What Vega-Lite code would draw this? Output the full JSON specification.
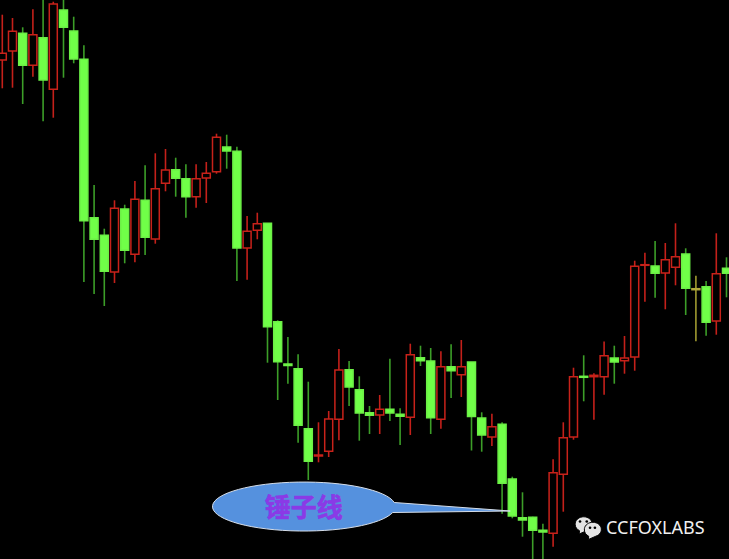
{"$schema":"https://vega.github.io/schema/vega-lite/v6.json","width":729,"height":559,"padding":0,"autosize":{"type":"none"},"background":"#000000","config":{"view":{"stroke":null}},
"datasets":{"candles":[
{"i":0,"open":499,"high":544.3,"low":470.7,"close":505.7,"kind":"up"},
{"i":1,"open":508,"high":541,"low":471.3,"close":527.7,"kind":"up"},
{"i":2,"open":525.7,"high":531.7,"low":455,"close":493.7,"kind":"down"},
{"i":3,"open":493.7,"high":549.7,"low":482.3,"close":524.3,"kind":"up"},
{"i":4,"open":521.3,"high":559,"low":437.7,"close":479,"kind":"down"},
{"i":5,"open":469.7,"high":557.3,"low":441.3,"close":555,"kind":"up"},
{"i":6,"open":549,"high":559,"low":481.3,"close":531.7,"kind":"down"},
{"i":7,"open":528,"high":542.3,"low":495.7,"close":500,"kind":"down"},
{"i":8,"open":499.7,"high":513.7,"low":277,"close":338.3,"kind":"down"},
{"i":9,"open":341.3,"high":374,"low":265,"close":319.7,"kind":"down"},
{"i":10,"open":323.7,"high":330.3,"low":253,"close":287.7,"kind":"down"},
{"i":11,"open":287,"high":358.7,"low":276,"close":350.7,"kind":"up"},
{"i":12,"open":350,"high":354.3,"low":295.7,"close":308.7,"kind":"down"},
{"i":13,"open":304.7,"high":378,"low":296.7,"close":359.7,"kind":"up"},
{"i":14,"open":358.7,"high":393.7,"low":304,"close":321.7,"kind":"down"},
{"i":15,"open":320,"high":405.7,"low":315.3,"close":370.3,"kind":"up"},
{"i":16,"open":375.7,"high":410,"low":367.7,"close":389,"kind":"up"},
{"i":17,"open":389.3,"high":401.3,"low":362.3,"close":380.7,"kind":"down"},
{"i":18,"open":380.3,"high":394.7,"low":341.3,"close":362.3,"kind":"down"},
{"i":19,"open":362.3,"high":394.7,"low":351.3,"close":380.3,"kind":"up"},
{"i":20,"open":381,"high":397,"low":356,"close":385.7,"kind":"up"},
{"i":21,"open":387.3,"high":425.3,"low":385.3,"close":421.7,"kind":"up"},
{"i":22,"open":412,"high":424.3,"low":390.3,"close":408,"kind":"down"},
{"i":23,"open":407.7,"high":412.3,"low":278,"close":311,"kind":"down"},
{"i":24,"open":311,"high":343,"low":279.3,"close":327.7,"kind":"up"},
{"i":25,"open":328.7,"high":346.3,"low":319.7,"close":335.3,"kind":"up"},
{"i":26,"open":335.7,"high":335.7,"low":196.3,"close":232.3,"kind":"down"},
{"i":27,"open":237.3,"high":238.7,"low":159,"close":197.3,"kind":"down"},
{"i":28,"open":195,"high":222,"low":175.3,"close":193.5,"kind":"down"},
{"i":29,"open":190.3,"high":204.7,"low":116.3,"close":133.7,"kind":"down"},
{"i":30,"open":130.3,"high":177.3,"low":79,"close":97.7,"kind":"down"},
{"i":31,"open":103,"high":136.7,"low":96.7,"close":104,"kind":"up"},
{"i":32,"open":107.7,"high":148,"low":102,"close":140,"kind":"up"},
{"i":33,"open":139.7,"high":210,"low":118.7,"close":189,"kind":"up"},
{"i":34,"open":189.3,"high":198,"low":153,"close":172,"kind":"down"},
{"i":35,"open":169.3,"high":182.7,"low":118.3,"close":146,"kind":"down"},
{"i":36,"open":146.3,"high":153,"low":125,"close":143.7,"kind":"down"},
{"i":37,"open":144,"high":164,"low":125,"close":149.7,"kind":"up"},
{"i":38,"open":149.7,"high":200.3,"low":138,"close":146,"kind":"down"},
{"i":39,"open":144.7,"high":150.7,"low":114,"close":142.7,"kind":"down"},
{"i":40,"open":141.7,"high":215.3,"low":124,"close":204.3,"kind":"up"},
{"i":41,"open":201.3,"high":213.3,"low":193,"close":198.3,"kind":"down"},
{"i":42,"open":198,"high":211,"low":125,"close":141.3,"kind":"down"},
{"i":43,"open":139.7,"high":207.7,"low":130.3,"close":192.3,"kind":"up"},
{"i":44,"open":192.3,"high":214.7,"low":161,"close":188.3,"kind":"down"},
{"i":45,"open":184.3,"high":219,"low":162,"close":192.3,"kind":"up"},
{"i":46,"open":197,"high":197,"low":108.5,"close":142.5,"kind":"down"},
{"i":47,"open":141,"high":146.7,"low":107.3,"close":124,"kind":"down"},
{"i":48,"open":122,"high":145.3,"low":113,"close":132.3,"kind":"up"},
{"i":49,"open":134.7,"high":136.7,"low":45.3,"close":75.7,"kind":"down"},
{"i":50,"open":80,"high":82.3,"low":40.7,"close":43,"kind":"down"},
{"i":51,"open":41.3,"high":66.7,"low":22.3,"close":39,"kind":"down"},
{"i":52,"open":41.7,"high":42.3,"low":0,"close":28.7,"kind":"down"},
{"i":53,"open":28.7,"high":35.3,"low":0,"close":27,"kind":"down"},
{"i":54,"open":25.7,"high":99.7,"low":12.3,"close":86.3,"kind":"up"},
{"i":55,"open":84.7,"high":136.7,"low":47.3,"close":121.3,"kind":"up"},
{"i":56,"open":122,"high":191.3,"low":119.3,"close":182.3,"kind":"up"},
{"i":57,"open":182.7,"high":203.7,"low":157.7,"close":181.7,"kind":"down"},
{"i":58,"open":182.3,"high":185.7,"low":139.3,"close":183.7,"kind":"up"},
{"i":59,"open":182.3,"high":217.5,"low":164.3,"close":203.3,"kind":"up"},
{"i":60,"open":201,"high":213.3,"low":175.3,"close":197,"kind":"down"},
{"i":61,"open":198.3,"high":223,"low":185.3,"close":201,"kind":"up"},
{"i":62,"open":202,"high":298.3,"low":188.3,"close":292.7,"kind":"up"},
{"i":63,"open":293.7,"high":306.3,"low":257.3,"close":294.3,"kind":"up"},
{"i":64,"open":293,"high":318,"low":261.3,"close":285.7,"kind":"down"},
{"i":65,"open":286,"high":316,"low":249.7,"close":299.3,"kind":"up"},
{"i":66,"open":291.7,"high":335.7,"low":273.7,"close":302.3,"kind":"up"},
{"i":67,"open":305,"high":310.7,"low":244,"close":270.7,"kind":"down"},
{"i":68,"open":270.3,"high":283.3,"low":217.7,"close":269.3,"kind":"flat"},
{"i":69,"open":272.3,"high":278,"low":223.3,"close":236.7,"kind":"down"},
{"i":70,"open":238,"high":325.7,"low":224.3,"close":285.3,"kind":"up"},
{"i":71,"open":290.7,"high":301.7,"low":261.7,"close":285.7,"kind":"down"}
]},
"encoding":{"x":{"field":"i","type":"quantitative","axis":null,"scale":{"domain":[-0.225,71.245],"nice":false,"zero":false,"padding":0}},"y":{"type":"quantitative","axis":null,"scale":{"domain":[0,559],"nice":false,"zero":false}}},
"layer":[
{"data":{"name":"candles"},"mark":{"type":"rule","strokeWidth":1.6},"encoding":{"y":{"field":"low","type":"quantitative"},"y2":{"field":"high"},"color":{"field":"kind","type":"nominal","legend":null,"scale":{"domain":["up","down","flat"],"range":["#c4201a","#3c9e28","#a09a30"]}}}},
{"data":{"name":"candles"},"mark":{"type":"bar","size":8,"strokeWidth":1.5},"encoding":{"y":{"field":"open","type":"quantitative"},"y2":{"field":"close"},"fill":{"field":"kind","type":"nominal","legend":null,"scale":{"domain":["up","down","flat"],"range":["#000000","#70ff48","#b8b040"]}},"stroke":{"field":"kind","type":"nominal","legend":null,"scale":{"domain":["up","down","flat"],"range":["#c8221a","#6cf046","#b0a83c"]}}}},
{"data":{"values":[{"i":29.7,"p":53.5}]},"mark":{"type":"point","filled":true,"size":40000,"fill":"#5591de","fillOpacity":1,"stroke":"#d5dde8","strokeWidth":1,"strokeOpacity":1,"shape":"M0.89,-0.03 L2.05,0.055 L0.875,0.07 A0.915,0.245 0 1 1 0.89,-0.03 Z"},"encoding":{"x":{"field":"i","type":"quantitative"},"y":{"field":"p","type":"quantitative"}}},
{"data":{"values":[{"i":29.55,"p":50.5,"t":"锤子线"}]},"mark":{"type":"text","font":"Noto Sans CJK SC","fontWeight":"bold","fontSize":26,"color":"#8a3ae6","stroke":"#8a3ae6","strokeWidth":0.6,"align":"center","baseline":"middle"},"encoding":{"x":{"field":"i","type":"quantitative"},"y":{"field":"p","type":"quantitative"},"text":{"field":"t"}}},
{"data":{"values":[{"i":57.0,"p":34.5,"part":"big"},{"i":57.9,"p":29,"part":"small"}]},"mark":{"type":"point","filled":true,"size":400,"fill":"#e4e4e4","fillOpacity":1,"stroke":"#000000","strokeWidth":1,"strokeOpacity":1,"shape":"M-0.85,0 A0.85,0.72 0 1 1 0.3,0.62 L-0.45,0.95 L-0.42,0.62 A0.85,0.72 0 0 1 -0.85,0 Z"},"encoding":{"x":{"field":"i","type":"quantitative"},"y":{"field":"p","type":"quantitative"}}},
{"data":{"values":[{"i":56.64,"p":37.5},{"i":57.3,"p":37.5},{"i":57.62,"p":31.3},{"i":58.1,"p":31.3}]},"mark":{"type":"point","filled":true,"size":7,"fill":"#000000","fillOpacity":1,"strokeWidth":0,"shape":"circle"},"encoding":{"x":{"field":"i","type":"quantitative"},"y":{"field":"p","type":"quantitative"}}},
{"data":{"values":[{"i":59.19,"p":30.5,"t":"CCFOXLABS"}]},"mark":{"type":"text","font":"Noto Sans","fontSize":18,"color":"#f0f0f0","align":"left","baseline":"middle"},"encoding":{"x":{"field":"i","type":"quantitative"},"y":{"field":"p","type":"quantitative"},"text":{"field":"t"}}}
]}
